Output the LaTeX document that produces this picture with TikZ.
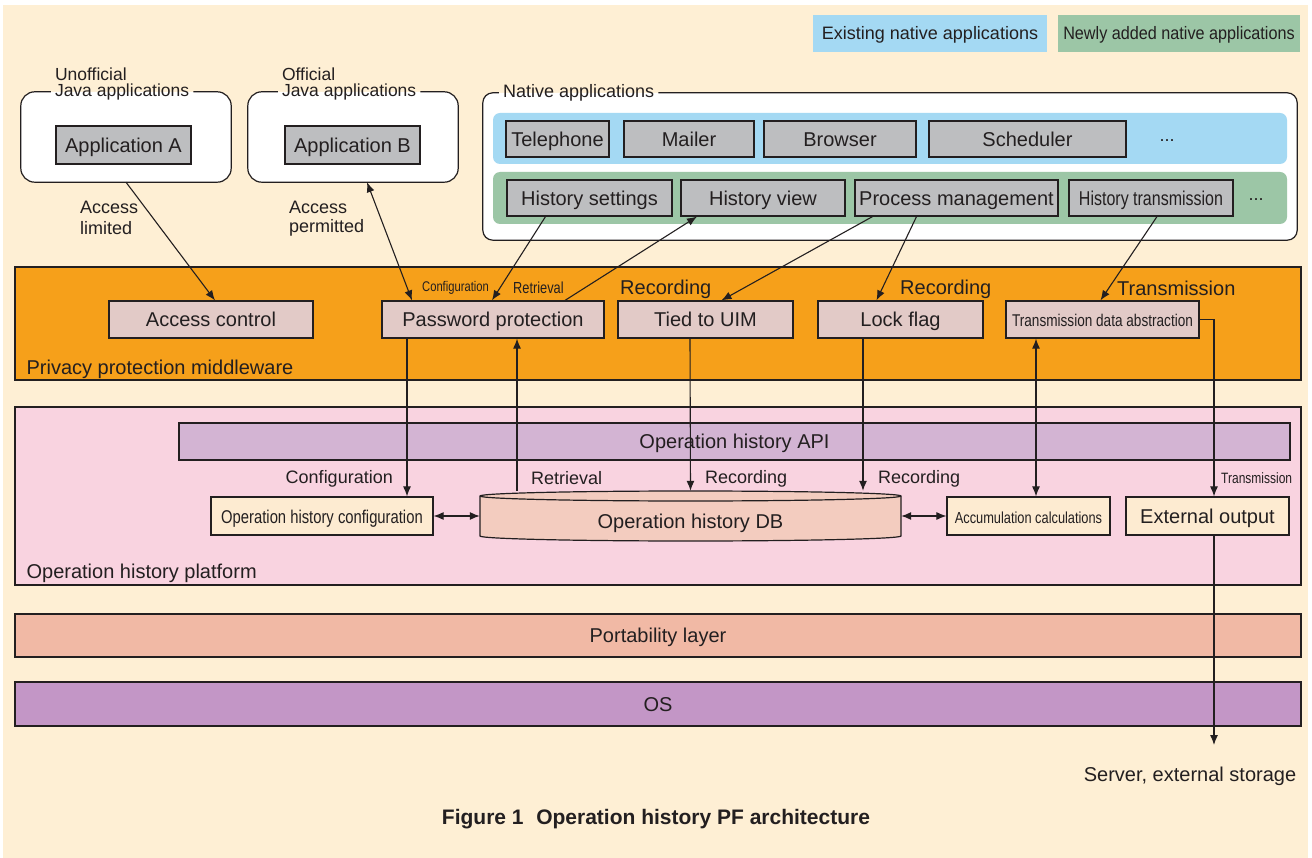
\documentclass[tikz,border=0pt]{standalone}
\usepackage{fontspec}
\setmainfont{Liberation Sans}
\newfontfamily\condfont[FakeStretch=0.8]{Liberation Sans}
\newfontfamily\semicond[FakeStretch=0.9]{Liberation Sans}
\usepackage{tikz}
\usetikzlibrary{arrows.meta,positioning}
\definecolor{bgcream}{HTML}{FEEFD4}
\definecolor{txt}{HTML}{231F20}
\definecolor{exblue}{HTML}{A4D9F3}
\definecolor{newgreen}{HTML}{9CC6A6}
\definecolor{appgray}{HTML}{BDBEC0}
\definecolor{mworange}{HTML}{F6A01A}
\definecolor{mwfill}{HTML}{E2CAC7}
\definecolor{pfpink}{HTML}{F9D3E0}
\definecolor{apifill}{HTML}{D3B4D3}
\definecolor{dbfill}{HTML}{F3CCBF}
\definecolor{pfcream}{HTML}{FDEBD1}
\definecolor{portfill}{HTML}{F1B9A5}
\definecolor{osfill}{HTML}{C396C6}

\begin{document}
\begin{tikzpicture}[x=1pt,y=-1pt,
    box/.style={draw=txt, line width=1.2pt, inner sep=2pt, text=txt,
      text height=19.4pt, text depth=5pt, font=\fontsize{20}{24}\selectfont},
    appbox/.style={box, fill=appgray, minimum height=36},
    mwbox/.style={box, fill=mwfill, minimum height=37},
    pfbox/.style={box, fill=pfcream, minimum height=38},
    layer/.style={box, minimum width=1286},
    legend/.style={text=txt, minimum height=37, text height=17.4pt, text depth=4.5pt,
      font=\fontsize{18}{21}\selectfont},
    lbl/.style={text=txt, inner sep=2pt, font=\fontsize{18}{21}\selectfont},
    title/.style={lbl, anchor=west, inner xsep=4pt, font=\fontsize{17.5}{20}\selectfont},
    biglbl/.style={lbl, font=\fontsize{20}{24}\selectfont},
    small/.style={lbl, font=\condfont\fontsize{14}{16}\selectfont},
    arr/.style={draw=txt, line width=1.1pt, -{Latex[length=10pt,width=8pt]}},
    darr/.style={arr, {Latex[length=10pt,width=8pt]}-{Latex[length=10pt,width=8pt]}}]
  \useasboundingbox (0,0) rectangle (1312,858);
  % background
  \fill[bgcream] (3,5) rectangle (1308,858);

  % legend
  \node[legend, fill=exblue, minimum width=234] (legex) at (930,33.5) {Existing native applications};
  \node[legend, fill=newgreen, minimum width=242, inner xsep=1pt, font=\semicond\fontsize{18}{21}\selectfont] (legnew) at (1179,33.5) {Newly added native applications};

  % Java application groups
  \node[fill=white, rounded corners=14, minimum width=210, minimum height=90] (ugroup) at (126,137) {};
  \node[title] (ujava) at ([xshift=30]ugroup.north west) {Java applications};
  \node[title] (uoff) at ([yshift=18]ujava.west) {Unofficial};
  \draw[txt, line width=1.2pt, rounded corners=14] (ujava.east) -- (ugroup.north east) -- (ugroup.south east)
    -- (ugroup.south west) -- (ugroup.north west) -- (ujava.west);
  \node[appbox, minimum width=135, minimum height=38] (appa) at (123.5,145) {Application A};

  \node[fill=white, rounded corners=14, minimum width=210, minimum height=90] (ogroup) at (353,137) {};
  \node[title] (ojava) at ([xshift=30]ogroup.north west) {Java applications};
  \node[title] (ooff) at ([yshift=18]ojava.west) {Official};
  \draw[txt, line width=1.2pt, rounded corners=14] (ojava.east) -- (ogroup.north east) -- (ogroup.south east)
    -- (ogroup.south west) -- (ogroup.north west) -- (ojava.west);
  \node[appbox, minimum width=135, minimum height=38] (appb) at (352.5,145) {Application B};

  % Native applications
  \node[fill=white, rounded corners=10, minimum width=814, minimum height=147] (ngroup) at (890,166.5) {};
  \node[title, font=\fontsize{18}{21}\selectfont] (ntitle) at ([xshift=16]ngroup.north west) {Native applications};
  \draw[txt, line width=1.2pt, rounded corners=10] (ntitle.east) -- (ngroup.north east) -- (ngroup.south east)
    -- (ngroup.south west) -- (ngroup.north west) -- (ntitle.west);
  \node[fill=exblue, rounded corners=7, minimum width=794, minimum height=51] (exstrip) at (890,138.5) {};
  \node[fill=newgreen, rounded corners=7, minimum width=794, minimum height=52] (newstrip) at (890,198) {};

  \node[appbox, minimum width=103] (tel) at (557.5,139) {Telephone};
  \node[appbox, minimum width=130] (mail) at (689,139) {Mailer};
  \node[appbox, minimum width=152] (brow) at (840,139) {Browser};
  \node[appbox, minimum width=197] (sched) at (1027.5,139) {Scheduler};
  \node[lbl] (exdots) at (1167,141) {...};

  \node[appbox, minimum width=165] (hset) at (589.5,198) {History settings};
  \node[appbox, minimum width=164] (hview) at (763,198) {History view};
  \node[appbox, minimum width=203] (pm) at (956.5,198) {Process management};
  \node[appbox, minimum width=164, font=\condfont\fontsize{20}{24}\selectfont] (htr) at (1151,198) {History transmission};
  \node[lbl] (newdots) at (1256,200) {...};

  % Privacy protection middleware
  \node[layer, fill=mworange, minimum height=113] (mw) at (658,323.5) {};
  \node[biglbl, anchor=west] (mwname) at ([xshift=10,yshift=11]mw.south west) {Privacy protection middleware};
  \node[mwbox, minimum width=204] (accctl) at (211,319.5) {Access control};
  \node[mwbox, minimum width=222] (pw) at (493,319.5) {Password protection};
  \node[mwbox, minimum width=175] (tied) at (705.5,319.5) {Tied to UIM};
  \node[mwbox, minimum width=165] (lock) at (900.5,319.5) {Lock flag};
  \node[mwbox, minimum width=193, font=\condfont\fontsize{17}{20}\selectfont] (tda) at (1102.5,319.5) {Transmission data abstraction};

  % Operation history platform
  \node[layer, fill=pfpink, minimum height=178] (pf) at (658,496) {};
  \node[biglbl, anchor=west] (pfname) at ([xshift=10,yshift=12]pf.south west) {Operation history platform};
  \node[box, fill=apifill, minimum width=1111, minimum height=37] (api) at (734.5,441.5) {Operation history API};
  \node[pfbox, minimum width=222, font=\condfont\fontsize{18.5}{22}\selectfont] (cfg) at (322,516) {Operation history configuration};
  \node[pfbox, minimum width=163, font=\condfont\fontsize{16}{20}\selectfont] (accum) at (1028.5,516) {Accumulation calculations};
  \node[pfbox, minimum width=163] (ext) at (1207.5,516) {External output};
  % DB cylinder
  \filldraw[fill=dbfill, draw=txt, line width=1.2pt] (480,496) -- (480,536)
    arc[start angle=180, end angle=360, x radius=210.5pt, y radius=5pt] -- (901,496)
    arc[start angle=0, end angle=180, x radius=210.5pt, y radius=5pt] -- cycle;
  \draw[txt, line width=1.2pt] (480,496) arc[start angle=180, end angle=360, x radius=210.5pt, y radius=5pt];
  \node[minimum width=421, minimum height=50, inner sep=0] (db) at (690.5,516) {};
  \node[biglbl] (dbname) at ([yshift=-7]db.center) {Operation history DB};

  % lower layers
  \node[layer, fill=portfill, minimum height=43] (port) at (658,635.5) {Portability layer};
  \node[layer, fill=osfill, minimum height=44] (os) at (658,704) {OS};

  % Arrows between applications and middleware
  \draw[arr] (ugroup.south) -- ([xshift=4]accctl.north);
  \draw[darr] ([xshift=14]ogroup.south) -- ([xshift=-81]pw.north);
  \draw[arr] ([xshift=-44]hset.south) -- ([xshift=-1]pw.north);
  \draw[arr] ([xshift=72]pw.north) -- ([xshift=-66]hview.south);
  \draw[arr] ([xshift=-84]pm.south) -- ([xshift=16]tied.north);
  \draw[arr] ([xshift=-40]pm.south) -- ([xshift=-24]lock.north);
  \draw[arr] ([xshift=6]htr.south) -- ([xshift=-2]tda.north);
  \node[lbl, anchor=west] at (78,207) {Access};
  \node[lbl, anchor=west] at (78,228) {limited};
  \node[lbl, anchor=west] at (287,207) {Access};
  \node[lbl, anchor=west] at (287,228) {permitted};
  \node[small, anchor=west] at (420,288) {Configuration};
  \node[small, anchor=west, font=\condfont\fontsize{16}{18}\selectfont] at (511,288) {Retrieval};
  \node[biglbl, anchor=west] at (618,289) {Recording};
  \node[biglbl, anchor=west] at (898,289) {Recording};
  \node[biglbl, anchor=west] at (1115,288) {Transmission};

  % Arrows between middleware and platform
  \draw[arr] ([xshift=-86]pw.south) -- ([xshift=85]cfg.north);
  \draw[arr] ([xshift=-173.5]db.north) -- ([xshift=24]pw.south);
  \draw[arr] ([xshift=-15.5]tied.south) -- (db.north);
  \draw[arr] ([xshift=-37.5]lock.south) -- ([xshift=172.5]db.north);
  \draw[darr] ([xshift=-66.5]tda.south) -- ([xshift=7.5]accum.north);
  \draw[arr] (tda.east) -| ([xshift=6.5]ext.north);
  \draw[darr] (cfg.east) -- (db.west);
  \draw[darr] (db.east) -- (accum.west);
  \node[lbl, anchor=east] at (395,479) {Configuration};
  \node[lbl, anchor=west] at (529,478) {Retrieval};
  \node[lbl, anchor=west] at (703,479) {Recording};
  \node[lbl, anchor=west] at (876,479) {Recording};
  \node[small, anchor=west, font=\condfont\fontsize{15}{17}\selectfont] at (1219,478) {Transmission};

  % External output to server
  \coordinate (srvpt) at (1214,745);
  \draw[arr] ([xshift=6.5]ext.south) -- (srvpt);
  \node[biglbl] (srv) at (1190,776) {Server, external storage};

  % caption
  \node[text=txt, font=\bfseries\fontsize{21}{25}\selectfont] (cap) at (656,819) {Figure 1\hspace{0.6em}Operation history PF architecture};
\end{tikzpicture}
\end{document}
